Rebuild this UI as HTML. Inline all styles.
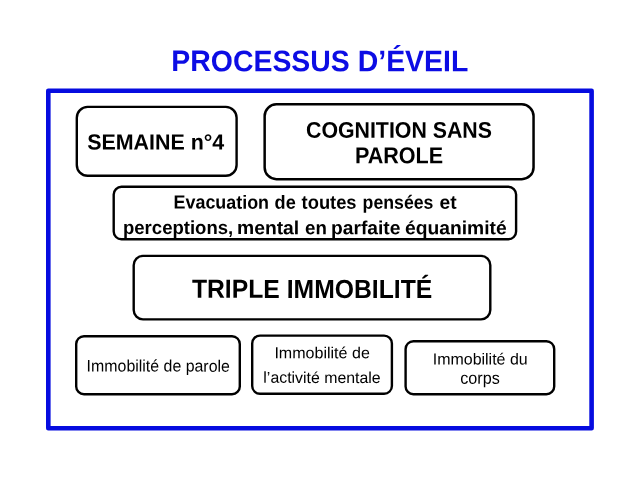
<!DOCTYPE html>
<html>
<head>
<meta charset="utf-8">
<title>Processus d’éveil</title>
<style>
html,body{margin:0;padding:0;}
body{width:640px;height:480px;background:#fff;position:relative;overflow:hidden;font-family:"Liberation Sans",sans-serif;color:#000;}
#shapes{position:absolute;left:0;top:0;}
#txt{position:absolute;left:0;top:0;width:640px;height:480px;will-change:transform;}
.t{position:absolute;white-space:nowrap;line-height:1;margin:0;transform-origin:0 0;text-rendering:geometricPrecision;}
.b{font-weight:bold;}
#title{color:#0c0ce4;}
.t span{position:absolute;top:0;transform-origin:0 0;}
</style>
</head>
<body>

<svg id="shapes" width="640" height="480" viewBox="0 0 640 480">
<rect x="48.30" y="90.80" width="543.30" height="337.40" rx="0.00" ry="0.00" fill="none" stroke="#060ce0" stroke-width="4.6" stroke-linejoin="round"/>
<rect x="76.80" y="106.90" width="159.80" height="68.80" rx="10.80" ry="10.80" fill="#fff" stroke="#000" stroke-width="2.4"/>
<rect x="264.65" y="104.35" width="268.90" height="74.80" rx="11.75" ry="11.75" fill="#fff" stroke="#000" stroke-width="2.5"/>
<rect x="113.70" y="186.80" width="402.40" height="52.50" rx="7.80" ry="7.80" fill="#fff" stroke="#000" stroke-width="2.4"/>
<rect x="133.70" y="255.90" width="356.60" height="63.50" rx="9.30" ry="9.30" fill="#fff" stroke="#000" stroke-width="2.4"/>
<rect x="76.20" y="336.20" width="163.60" height="58.00" rx="7.80" ry="7.80" fill="#fff" stroke="#000" stroke-width="2.4"/>
<rect x="252.20" y="335.60" width="139.70" height="58.20" rx="7.80" ry="7.80" fill="#fff" stroke="#000" stroke-width="2.4"/>
<rect x="405.60" y="341.20" width="148.60" height="53.00" rx="7.80" ry="7.80" fill="#fff" stroke="#000" stroke-width="2.4"/>
</svg>

<div id="txt">
<div class="t b" id="title" style="font-size:28.46px;left:171.00px;top:47.00px;transform:translate(0.34px,0.13px) rotate(0.03deg) scale(0.9990,1.0425);">PROCESSUS D’ÉVEIL</div>
<div class="t b" id="sem" style="font-size:21.39px;left:87.00px;top:133.00px;transform:translate(0.18px,-1.00px) rotate(0.03deg) scale(1.0019,1.0260);">SEMAINE n°4</div>
<div class="t b" id="cog1" style="font-size:21.32px;left:306.00px;top:120.00px;transform:translate(0.02px,-0.44px) rotate(0.03deg) scale(1.0000,1.0652);">COGNITION SANS</div>
<div class="t b" id="cog2" style="font-size:21.55px;left:355.00px;top:145.00px;transform:translate(-0.11px,-1.03px) rotate(0.03deg) scale(1.0000,1.0655);">PAROLE</div>
<div class="t b" id="ev1" style="font-size:18.42px;left:174.00px;top:194.00px;transform:translate(-0.40px,-0.94px) rotate(0.03deg) scale(1.0000,1.0362);"><span style="left:0.07px;transform:scaleX(0.9716);">Evacuation</span> <span style="left:101.04px;transform:scaleX(0.9845);">de</span> <span style="left:128.04px;transform:scaleX(0.9950);">toutes</span> <span style="left:189.10px;transform:scaleX(0.9613);">pensées</span> <span style="left:266.11px;transform:scaleX(1.0430);">et</span></div>
<div class="t b" id="ev2" style="font-size:18.41px;left:123.00px;top:218.00px;transform:translate(0.00px,0.68px) rotate(0.03deg) scale(1.0000,1.0251);"><span style="left:0.01px;transform:scaleX(1.0070);">perceptions,</span> <span style="left:114.08px;transform:scaleX(1.0489);">mental</span> <span style="left:182.00px;transform:scaleX(1.0150);">en</span> <span style="left:208.42px;transform:scaleX(1.0448);">parfaite</span> <span style="left:282.11px;transform:scaleX(1.0460);">équanimité</span></div>
<div class="t b" id="tri" style="font-size:24.72px;left:192.00px;top:277.00px;transform:translate(-0.07px,0.73px) rotate(0.03deg) scale(1.0000,1.0587);">TRIPLE IMMOBILITÉ</div>
<div class="t" id="ip" style="font-size:15.99px;left:86.00px;top:359.00px;transform:translate(0.61px,0.09px) rotate(0.03deg) scale(0.9955,1.0397);">Immobilité de parole</div>
<div class="t" id="im1" style="font-size:16.05px;left:274.00px;top:345.00px;transform:translate(0.41px,0.17px) rotate(0.03deg) scale(1.0007,0.9973);">Immobilité de</div>
<div class="t" id="im2" style="font-size:15.92px;left:263.00px;top:372.00px;transform:translate(0.35px,-1.05px) rotate(0.03deg) scale(0.9981,0.9924);">l’activité mentale</div>
<div class="t" id="ic1" style="font-size:16.04px;left:432.00px;top:352.00px;transform:translate(0.76px,-0.56px) rotate(0.03deg) scale(0.9956,0.9978);">Immobilité du</div>
<div class="t" id="ic2" style="font-size:16.20px;left:460.00px;top:370.00px;transform:translate(0.19px,0.13px) rotate(0.03deg) scale(0.9990,1.0411);">corps</div>
</div>
</body>
</html>
